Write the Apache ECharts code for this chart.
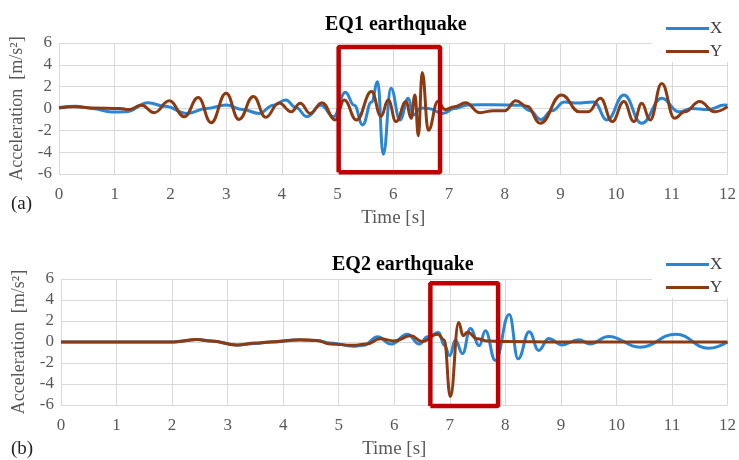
<!DOCTYPE html>
<html>
<head>
<meta charset="utf-8">
<script src="https://cdn.jsdelivr.net/npm/echarts@6/dist/echarts.min.js"></script>
<style>
html, body { margin: 0; padding: 0; background: #fff; }
#main { width: 739px; height: 460px; }
</style>
</head>
<body>
<div id="main"></div>
<script>
var dom = document.getElementById("main");
var myChart = echarts.init(dom, null, { renderer: 'canvas' });

// time ticks and acceleration ticks
var timeTicks = [0, 12, 1];
var accTicks = [-6, 6, 2];

// EQ1 - peaks / troughs [t (s), a (m/s2)]
var eq1X = [[0,0.1],[0.3,0.2],[0.6,0],[0.95,-0.32],[1.2,-0.3],[1.6,0.53],[1.9,0.2],[2.3,-0.45],[2.65,0],[3.0,0.32],
    [3.3,-0.1],[3.59,-0.45],[3.85,0.3],[4.07,0.78],[4.25,0.1],[4.45,-0.75],[4.7,0.3],[4.93,-0.75],[5.14,1.5],[5.3,0.3],
    [5.45,-1.5],[5.61,0.6],[5.72,2.45],[5.82,-4.2],[5.96,1.85],[6.12,-1.05],[6.27,0.93],[6.36,-0.6],[6.5,0.05],[6.63,0],
    [6.89,-0.45],[7.1,0],[7.34,0.32],[7.8,0.35],[8.29,0.3],[8.45,-0.2],[8.65,-1.0],[8.85,-0.2],[9.07,0.6],[9.3,0.5],
    [9.6,0.6],[9.84,-1.05],[10.14,1.24],[10.46,-1.36],[10.82,0.93],[11.13,-0.3],[11.36,0],[11.65,-0.1],[11.95,0.32],[12,0.3]];
var eq1Y = [[0,0.05],[0.28,0.17],[0.6,0.05],[1.1,0],[1.25,-0.1],[1.48,0.3],[1.71,-0.38],[1.98,0.7],[2.25,-0.75],[2.5,1.0],
    [2.73,-1.3],[3.0,1.4],[3.23,-1.0],[3.49,1.1],[3.71,-0.8],[3.95,0.5],[4.17,-0.3],[4.33,0.47],[4.51,-0.45],[4.72,0.53],
    [4.96,-1.05],[5.12,0.78],[5.34,-1.05],[5.61,1.55],[5.78,-0.7],[5.91,0.78],[6.05,-1.2],[6.23,0.63],[6.32,-0.9],[6.39,1.24],
    [6.45,-2.5],[6.52,3.3],[6.63,-2.0],[6.8,0.63],[6.93,-0.1],[7.1,0.17],[7.3,0.53],[7.55,-0.38],[7.8,-0.2],[8.0,-0.2],
    [8.2,0.72],[8.4,0.2],[8.64,-1.36],[9.02,1.24],[9.34,-0.3],[9.5,-0.3],[9.72,0.93],[9.93,-1.2],[10.14,0.63],[10.32,-1.2],
    [10.46,0.47],[10.61,-1.05],[10.82,2.3],[11.05,-0.9],[11.23,-0.3],[11.5,0.63],[11.77,-0.3],[12,0.17]];

// EQ2
var eq2X = [[0,0],[2.0,0],[2.2,0.1],[2.45,0.25],[2.7,0.1],[3.17,-0.3],[3.5,-0.15],[3.77,0],[4.3,0.2],[4.6,0.15],
    [4.85,-0.1],[5.26,-0.4],[5.45,-0.3],[5.7,0.5],[5.94,-0.2],[6.24,0.75],[6.45,-0.2],[6.6,0.5],[6.8,0.9],[6.9,-0.3],
    [7.0,-1.3],[7.1,0.2],[7.23,-1.1],[7.37,1.28],[7.53,-0.35],[7.64,1.06],[7.82,-1.75],[8.07,2.62],[8.23,-1.6],[8.43,0.97],
    [8.6,-0.8],[8.78,0.34],[9.02,-0.28],[9.32,0.22],[9.52,-0.19],[9.86,0.53],[10.42,-0.5],[11.07,0.75],[11.66,-0.6],[12,0]];
var eq2Y = [[0,0],[2.0,0],[2.45,0.25],[2.7,0.1],[3.17,-0.28],[3.5,-0.1],[3.77,0],[4.3,0.22],[4.6,0.15],[4.85,-0.2],
    [5.26,-0.3],[5.5,-0.2],[5.75,0.3],[6.0,0.1],[6.3,0.6],[6.5,0.05],[6.78,0.75],[6.9,0.2],[7.01,-5.2],[7.16,1.85],
    [7.24,0.6],[7.32,0.94],[7.5,0.3],[7.67,0.1],[8.0,0.05],[9.0,0],[10,0],[11,0],[12,0]];

// red highlight boxes: [t0, t1, a0, a1]
var box1 = [5.02, 6.84, -5.83, 5.64];
var box2 = [6.65, 7.87, -6.1, 5.6];

var titles = ['EQ1 earthquake', 'EQ2 earthquake'];
var panelTags = ['(a)', '(b)'];

var serif = 'Liberation Serif';
var blue = '#2b85d2';
var brown = '#8b3a12';

function boxPath(b) {
    return [[b[0], b[2]], [b[1], b[2]], [b[1], b[3]], [b[0], b[3]], [b[0], b[2]]];
}

function xAx(i) {
    return {
        type: 'value', gridIndex: i, min: timeTicks[0], max: timeTicks[1], interval: timeTicks[2],
        name: 'Time [s]', nameLocation: 'middle', nameGap: 35,
        nameTextStyle: { fontFamily: serif, fontSize: 19, color: '#595959' },
        axisLine: { show: true, lineStyle: { color: '#d9d9d9', width: 1 } },
        axisTick: { show: false },
        axisLabel: { fontFamily: serif, fontSize: 17, color: '#595959', margin: 12 },
        splitLine: { show: true, lineStyle: { color: '#d9d9d9', width: 1 } }
    };
}
function yAx(i) {
    return {
        type: 'value', gridIndex: i, min: accTicks[0], max: accTicks[1], interval: accTicks[2],
        name: 'Acceleration  [m/s²]', nameLocation: 'middle', nameGap: 33,
        nameTextStyle: { fontFamily: serif, fontSize: 18, color: '#595959' },
        axisLine: { show: false },
        axisTick: { show: false },
        axisLabel: { fontFamily: serif, fontSize: 17, color: '#595959', margin: 7 },
        splitLine: { show: true, lineStyle: { color: '#d9d9d9', width: 1 } }
    };
}
function wave(name, data, i, color) {
    return {
        name: name, type: 'line', xAxisIndex: i, yAxisIndex: i, data: data,
        symbol: 'none', smooth: 0.45, smoothMonotone: 'x',
        lineStyle: { color: color, width: 3 }, itemStyle: { color: color },
        z: 3
    };
}
function boxSeries(b, i) {
    return {
        name: 'box' + i, type: 'line', xAxisIndex: i, yAxisIndex: i, data: boxPath(b),
        symbol: 'none', silent: true, clip: false,
        lineStyle: { color: '#c00000', width: 4.5 }, z: 5
    };
}
function legendAt(top) {
    return {
        data: ['X', 'Y'], orient: 'vertical', left: 652, top: top,
        icon: 'rect', itemWidth: 43, itemHeight: 3, itemGap: 6,
        backgroundColor: '#fff', padding: [2, 14, 2, 14],
        textStyle: { fontFamily: serif, fontSize: 17, color: '#404040', padding: [0, 0, 0, -4] }
    };
}

option = {
    backgroundColor: '#fff',
    animation: false,
    title: [
        { text: titles[0], left: 320, top: 10, textStyle: { fontFamily: serif, fontSize: 20, fontWeight: 'bold', color: '#000' } },
        { text: titles[1], left: 327, top: 250, textStyle: { fontFamily: serif, fontSize: 20, fontWeight: 'bold', color: '#000' } }
    ],
    legend: [legendAt(18), legendAt(254)],
    grid: [
        { left: 59, top: 43, width: 672, height: 131 },
        { left: 61, top: 279, width: 671, height: 127 }
    ],
    xAxis: [xAx(0), xAx(1)],
    yAxis: [yAx(0), yAx(1)],
    series: [
        wave('X', eq1X, 0, blue),
        wave('Y', eq1Y, 0, brown),
        wave('X', eq2X, 1, blue),
        wave('Y', eq2Y, 1, brown),
        boxSeries(box1, 0),
        boxSeries(box2, 1)
    ],
    graphic: [
        { type: 'text', left: 11, top: 195, style: { text: panelTags[0], font: '19px "Liberation Serif"', fill: '#222' } },
        { type: 'text', left: 11, top: 440, style: { text: panelTags[1], font: '19px "Liberation Serif"', fill: '#222' } }
    ]
};

if (option && typeof option === "object") {
    myChart.setOption(option, true);
}
</script>
</body>
</html>
